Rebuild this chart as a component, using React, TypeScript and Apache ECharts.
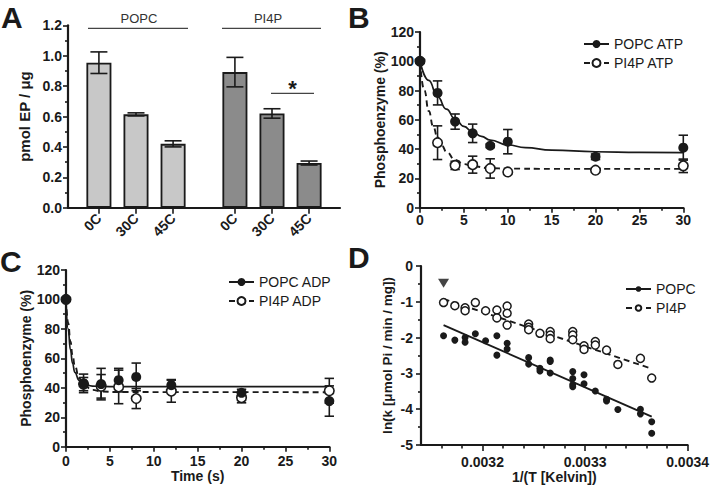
import React, { useEffect, useRef } from 'react';
import * as echarts from 'echarts';

const FONT = '"Liberation Sans", Arial, Helvetica, sans-serif';
const INK = '#1a1a1a';

// ---------- Panel A : bars ----------
const tempLabels = ['0C', '30C', '45C'];
const popcEP = [0.954, 0.614, 0.42];
const popcEPErr = [0.071, 0.01, 0.02];
const pi4pEP = [0.892, 0.62, 0.294];
const pi4pEPErr = [0.097, 0.031, 0.013];
const popcSlots = [2, 5, 8];
const pi4pSlots = [13, 16, 19];
const SLOT_COUNT = 22;

// ---------- Panel B : ATP ----------
const timeB = [0, 2, 4, 6, 8, 10, 20, 30];
const popcATP = [100, 78.4, 58.8, 50.8, 42.3, 45.1, 34.8, 41];
const popcATPErr = [0, 8.2, 5.2, 6.3, 1.2, 8.3, 1.9, 8.5];
const pi4pATP = [100, 44.4, 28.9, 29.4, 26.8, 24.4, 25.6, 28.6];
const pi4pATPErr = [0, 11.5, 2.8, 5.8, 6.6, 1, 1.3, 4.6];
const popcATPFit = [[0, 100], [1, 87], [2, 75.8], [3, 67.3], [4, 60.7], [5, 55.6], [6, 51.7], [7, 48.7], [8, 46.2], [10, 42.9], [12, 41], [15, 39.3], [20, 38.2], [25, 37.8], [30, 37.6]];
const pi4pATPFit = [[0, 100], [0.5, 80], [1, 66], [1.5, 55.5], [2, 48], [2.5, 42.3], [3, 38.3], [4, 32.7], [5, 29.8], [6, 28.3], [8, 27], [10, 26.7], [15, 26.5], [30, 26.5]];

// ---------- Panel C : ADP ----------
const timeC = [0, 2, 4, 6, 8, 12, 20, 30];
const popcADP = [100, 43, 42.5, 45.2, 47.4, 41.8, 36.6, 31];
const popcADPErr = [0, 6.3, 10.7, 8, 9.4, 3.8, 2.4, 10.3];
const pi4pADP = [100, 42.5, 41, 40.6, 32.7, 37.7, 33.3, 38];
const pi4pADPErr = [0, 4.5, 8, 11.4, 6.8, 7.5, 3.5, 8.4];
const popcADPFit = [[0, 100], [0.25, 80], [0.5, 66], [0.75, 56.5], [1, 50.5], [1.5, 45], [2, 42.6], [3, 41.2], [4, 40.9], [6, 40.8], [30, 40.8]];
const pi4pADPFit = [[0, 100], [0.25, 84], [0.5, 71.5], [0.75, 62], [1, 55], [1.5, 46.5], [2, 42], [3, 38.6], [4, 37.5], [6, 37.1], [30, 37]];

// ---------- Panel D : Arrhenius ----------
const popcArrX = [0.003162, 0.003173, 0.003183, 0.003183, 0.003193, 0.003203, 0.003214, 0.003214, 0.003224, 0.003224, 0.003245, 0.003245, 0.003256, 0.003256, 0.003266, 0.003266, 0.003266, 0.003288, 0.003288, 0.003288, 0.003288, 0.003299, 0.003299, 0.00331, 0.003321, 0.003321, 0.003332, 0.003354, 0.003354, 0.003365, 0.003365];
const popcArrY = [-1.95, -2.07, -2.0, -2.13, -1.89, -2.09, -1.95, -2.49, -2.16, -2.32, -2.56, -2.74, -2.86, -2.93, -2.63, -2.67, -2.99, -2.95, -3.14, -3.31, -3.37, -3.04, -3.29, -3.49, -3.72, -3.77, -4.01, -4.0, -4.13, -4.35, -4.67];
const pi4pArrX = [0.003162, 0.003173, 0.003183, 0.003183, 0.003193, 0.003203, 0.003214, 0.003214, 0.003224, 0.003224, 0.003224, 0.003245, 0.003245, 0.003245, 0.003256, 0.003266, 0.003266, 0.003266, 0.003288, 0.003288, 0.003288, 0.003299, 0.003299, 0.00331, 0.00331, 0.003321, 0.003332, 0.003354, 0.003365];
const pi4pArrY = [-1.02, -1.11, -1.17, -1.25, -1.02, -1.25, -1.23, -1.45, -1.12, -1.32, -1.65, -1.62, -1.71, -1.78, -1.88, -1.83, -1.93, -2.03, -1.83, -1.93, -2.06, -2.23, -2.33, -2.11, -2.21, -2.35, -2.75, -2.58, -3.13];
const popcArrFit = [[0.003162, -1.65], [0.003365, -4.21]];
const pi4pArrFit = [[0.003162, -0.92], [0.003365, -2.87]];
const arrowMark = [[0.003162, -0.48]];
const dMajorTicks = [0.0032, 0.0033, 0.0034];
const dMinorTicks = [0.00316, 0.00318, 0.00322, 0.00324, 0.00326, 0.00328, 0.00332, 0.00334, 0.00336, 0.00338];

const labelStyle = { color: INK, fontFamily: FONT, fontWeight: 'bold', fontSize: 14 };
const nameStyle = { color: INK, fontFamily: FONT, fontWeight: 'bold', fontSize: 14 };
const axisLine = { show: true, onZero: false, lineStyle: { color: INK, width: 2.2 } };
const tickLine = { color: INK, width: 1.6 };

function valueAxis(o: any) {
  return {
    type: 'value',
    axisLine,
    axisTick: { show: true, length: 5, lineStyle: tickLine },
    minorTick: { show: true, splitNumber: 2, length: 3, lineStyle: tickLine },
    splitLine: { show: false },
    minorSplitLine: { show: false },
    nameLocation: 'middle',
    nameTextStyle: nameStyle,
    ...o,
    axisLabel: { ...labelStyle, margin: 7, ...(o.axisLabel || {}) },
  };
}

const errorBarRender = (cap: number) => (params: any, api: any) => {
  const x = api.value(0);
  const lo = api.coord([x, api.value(1)]);
  const hi = api.coord([x, api.value(2)]);
  const style = { stroke: INK, lineWidth: 1.6, fill: 'none' };
  return {
    type: 'group',
    children: [
      { type: 'line', shape: { x1: lo[0], y1: lo[1], x2: hi[0], y2: hi[1] }, style },
      { type: 'line', shape: { x1: hi[0] - cap, y1: hi[1], x2: hi[0] + cap, y2: hi[1] }, style },
      { type: 'line', shape: { x1: lo[0] - cap, y1: lo[1], x2: lo[0] + cap, y2: lo[1] }, style },
    ],
  };
};

function errData(xs: number[], ys: number[], es: number[]) {
  return xs.map((x, i) => [x, ys[i] - es[i], ys[i] + es[i], es[i]]).filter((d) => d[3] > 0);
}

function buildOption() {
  const slotLabels: string[] = Array.from({ length: SLOT_COUNT }, () => '');
  popcSlots.forEach((s, i) => (slotLabels[s] = tempLabels[i]));
  pi4pSlots.forEach((s, i) => (slotLabels[s] = tempLabels[i]));
  const slotCats = slotLabels.map((_, i) => 's' + i);
  const popcBar: any[] = slotLabels.map(() => '-');
  const pi4pBar: any[] = slotLabels.map(() => '-');
  popcSlots.forEach((s, i) => (popcBar[s] = popcEP[i]));
  pi4pSlots.forEach((s, i) => (pi4pBar[s] = pi4pEP[i]));
  const aErr = [
    ...popcSlots.map((s, i) => [s, popcEP[i] - popcEPErr[i], popcEP[i] + popcEPErr[i]]),
    ...pi4pSlots.map((s, i) => [s, pi4pEP[i] - pi4pEPErr[i], pi4pEP[i] + pi4pEPErr[i]]),
  ];

  const filled = { color: INK, opacity: 1 };
  const open = { color: '#ffffff', borderColor: INK, borderWidth: 1.6, opacity: 1 };
  const solidLine = { color: INK, width: 1.7, type: 'solid' };
  const dashLine = { color: INK, width: 1.9, type: [6, 4] };
  const legendText = { color: INK, fontFamily: FONT, fontSize: 14 };

  const text = (t: string, x: number, y: number, font: string, align = 'left', fill = INK, va = 'middle') => ({
    type: 'text', x, y, silent: true,
    style: { text: t, font, fill, align, verticalAlign: va },
  });
  const hline = (x1: number, x2: number, y: number) => ({
    type: 'line', silent: true, shape: { x1, y1: y, x2, y2: y }, style: { stroke: '#444', lineWidth: 1.3 },
  });

  return {
    animation: false,
    backgroundColor: '#ffffff',
    textStyle: { fontFamily: FONT },
    grid: [
      { left: 68, top: 25.3, width: 272, height: 182.4 },
      { left: 420, top: 32, width: 263.3, height: 175.7 },
      { left: 66, top: 270, width: 263.3, height: 176.7 },
      { left: 421, top: 266, width: 269, height: 179 },
    ],
    xAxis: [
      {
        gridIndex: 0, type: 'category', data: slotCats, boundaryGap: true,
        axisLine,
        axisTick: { show: true, alignWithLabel: true, length: 6, lineStyle: tickLine, interval: (i: number) => slotLabels[i] !== '' },
        axisLabel: { ...labelStyle, rotate: 45, margin: 8, interval: (i: number) => slotLabels[i] !== '', formatter: (_v: string, i: number) => slotLabels[i] },
        splitLine: { show: false },
      },
      valueAxis({ gridIndex: 1, min: 0, max: 30, interval: 5, axisLabel: { margin: 5 } }),
      valueAxis({ gridIndex: 2, min: 0, max: 30, interval: 5, name: 'Time (s)', nameGap: 12, axisLabel: { margin: 7 } }),
      valueAxis({
        gridIndex: 3, min: 0.00314, max: 0.0034, position: 'bottom',
        minorTick: { show: false },
        axisTick: { show: true, length: 6, lineStyle: tickLine, customValues: dMajorTicks },
        axisLabel: { margin: 10, customValues: dMajorTicks, formatter: (v: number) => v.toFixed(4) },
        name: '1/(T [Kelvin])', nameGap: 25,
      }),
      {
        gridIndex: 3, type: 'value', min: 0.00314, max: 0.0034, position: 'top', offset: -179,
        axisLine: { show: false },
        axisTick: { show: true, inside: true, length: 3.5, lineStyle: tickLine, customValues: dMinorTicks },
        axisLabel: { show: false },
        splitLine: { show: false },
      },
    ],
    yAxis: [
      valueAxis({
        gridIndex: 0, min: 0, max: 1.2, interval: 0.2, name: 'pmol EP / μg', nameGap: 36,
        nameTextStyle: { ...nameStyle, fontSize: 15 },
        axisLabel: { margin: 6, formatter: (v: number) => v.toFixed(1) },
      }),
      valueAxis({ gridIndex: 1, min: 0, max: 120, interval: 20, name: 'Phosphoenzyme (%)', nameGap: 32, axisLabel: { margin: 6 } }),
      valueAxis({ gridIndex: 2, min: 0, max: 120, interval: 20, name: 'Phosphoenzyme (%)', nameGap: 32, axisLabel: { margin: 6 } }),
      valueAxis({
        gridIndex: 3, min: -5, max: 0, interval: 1, name: 'ln(k [μmol Pi / min / mg])', nameGap: 27,
        nameTextStyle: { ...nameStyle, fontSize: 13.5 }, axisLabel: { margin: 8 },
      }),
    ],
    legend: [
      {
        data: ['POPC ATP', 'PI4P ATP'], orient: 'vertical', left: 578, top: 32, itemWidth: 25, itemHeight: 10,
        itemGap: 5, textStyle: legendText, selectedMode: false,
      },
      {
        data: ['POPC ADP', 'PI4P ADP'], orient: 'vertical', left: 223, top: 270, itemWidth: 25, itemHeight: 10,
        itemGap: 5, textStyle: legendText, selectedMode: false,
      },
      {
        data: ['POPC', 'PI4P'], orient: 'vertical', left: 620, top: 277, itemWidth: 25, itemHeight: 7,
        itemGap: 5, textStyle: legendText, selectedMode: false,
      },
    ],
    series: [
      // Panel A
      {
        name: 'A POPC', type: 'bar', xAxisIndex: 0, yAxisIndex: 0, data: popcBar, barWidth: 25, barGap: '-100%',
        itemStyle: { color: '#c8c8c8', borderColor: INK, borderWidth: 1.8 },
      },
      {
        name: 'A PI4P', type: 'bar', xAxisIndex: 0, yAxisIndex: 0, data: pi4pBar, barWidth: 25, barGap: '-100%',
        itemStyle: { color: '#8b8b8b', borderColor: INK, borderWidth: 1.8 },
      },
      {
        name: 'A err', type: 'custom', xAxisIndex: 0, yAxisIndex: 0, data: aErr, renderItem: errorBarRender(8.5),
        encode: { x: 0, y: [1, 2] }, z: 5,
      },
      // Panel B
      { name: 'B err1', type: 'custom', xAxisIndex: 1, yAxisIndex: 1, data: errData(timeB, popcATP, popcATPErr), renderItem: errorBarRender(4.7), encode: { x: 0, y: [1, 2] }, z: 2 },
      { name: 'B err2', type: 'custom', xAxisIndex: 1, yAxisIndex: 1, data: errData(timeB, pi4pATP, pi4pATPErr), renderItem: errorBarRender(4.7), encode: { x: 0, y: [1, 2] }, z: 2 },
      { name: 'POPC ATP', type: 'line', xAxisIndex: 1, yAxisIndex: 1, data: popcATPFit, smooth: true, smoothMonotone: 'x', showSymbol: false, symbol: 'circle', lineStyle: solidLine, itemStyle: filled, z: 3 },
      { name: 'PI4P ATP', type: 'line', xAxisIndex: 1, yAxisIndex: 1, data: pi4pATPFit, smooth: true, smoothMonotone: 'x', showSymbol: false, symbol: 'circle', lineStyle: dashLine, itemStyle: open, z: 3 },
      { name: 'B pi4p pts', type: 'scatter', xAxisIndex: 1, yAxisIndex: 1, data: timeB.map((t, i) => [t, pi4pATP[i]]), symbolSize: 9.5, itemStyle: open, z: 4 },
      { name: 'B popc pts', type: 'scatter', xAxisIndex: 1, yAxisIndex: 1, data: timeB.map((t, i) => [t, popcATP[i]]), symbolSize: 10, itemStyle: filled, z: 4 },
      // Panel C
      { name: 'C err1', type: 'custom', xAxisIndex: 2, yAxisIndex: 2, data: errData(timeC, popcADP, popcADPErr), renderItem: errorBarRender(4.7), encode: { x: 0, y: [1, 2] }, z: 2 },
      { name: 'C err2', type: 'custom', xAxisIndex: 2, yAxisIndex: 2, data: errData(timeC, pi4pADP, pi4pADPErr), renderItem: errorBarRender(4.7), encode: { x: 0, y: [1, 2] }, z: 2 },
      { name: 'POPC ADP', type: 'line', xAxisIndex: 2, yAxisIndex: 2, data: popcADPFit, smooth: true, smoothMonotone: 'x', showSymbol: false, symbol: 'circle', lineStyle: solidLine, itemStyle: filled, z: 3 },
      { name: 'PI4P ADP', type: 'line', xAxisIndex: 2, yAxisIndex: 2, data: pi4pADPFit, smooth: true, smoothMonotone: 'x', showSymbol: false, symbol: 'circle', lineStyle: dashLine, itemStyle: open, z: 3 },
      { name: 'C pi4p pts', type: 'scatter', xAxisIndex: 2, yAxisIndex: 2, data: timeC.map((t, i) => [t, pi4pADP[i]]), symbolSize: 9.5, itemStyle: open, z: 4 },
      { name: 'C popc pts', type: 'scatter', xAxisIndex: 2, yAxisIndex: 2, data: timeC.map((t, i) => [t, popcADP[i]]), symbolSize: 10, itemStyle: filled, z: 4 },
      // Panel D
      { name: 'POPC', type: 'line', xAxisIndex: 3, yAxisIndex: 3, data: popcArrFit, showSymbol: false, symbol: 'circle', lineStyle: { ...solidLine, width: 1.9 }, itemStyle: filled, z: 3 },
      { name: 'PI4P', type: 'line', xAxisIndex: 3, yAxisIndex: 3, data: pi4pArrFit, showSymbol: false, symbol: 'circle', lineStyle: dashLine, itemStyle: open, z: 3 },
      { name: 'D popc pts', type: 'scatter', xAxisIndex: 3, yAxisIndex: 3, data: popcArrX.map((x, i) => [x, popcArrY[i]]), symbolSize: 7, itemStyle: filled, z: 4 },
      { name: 'D pi4p pts', type: 'scatter', xAxisIndex: 3, yAxisIndex: 3, data: pi4pArrX.map((x, i) => [x, pi4pArrY[i]]), symbolSize: 8, itemStyle: { ...open, borderWidth: 1.5 }, z: 4 },
      { name: 'D mark', type: 'scatter', xAxisIndex: 3, yAxisIndex: 3, data: arrowMark, symbol: 'triangle', symbolRotate: 180, symbolSize: [11, 9], itemStyle: { color: '#444', opacity: 1 }, z: 4 },
    ],
    graphic: [
      text('A', 1, 2, `bold 30px ${FONT}`, 'left', INK, 'top'),
      text('B', 348, 2, `bold 30px ${FONT}`, 'left', INK, 'top'),
      text('C', 0, 246, `bold 30px ${FONT}`, 'left', INK, 'top'),
      text('D', 348, 242, `bold 30px ${FONT}`, 'left', INK, 'top'),
      text('POPC', 139, 18.5, `13px ${FONT}`, 'center', '#333'),
      text('PI4P', 268, 18.5, `13px ${FONT}`, 'center', '#333'),
      hline(88, 188, 28.3),
      hline(222, 321, 28.3),
      text('*', 292.5, 88, `bold 22px ${FONT}`, 'center'),
      hline(271, 314, 93.3),
    ],
  };
}

export default function App() {
  const ref = useRef<HTMLDivElement>(null);
  useEffect(() => {
    if (!ref.current) return;
    const chart = echarts.init(ref.current, undefined, { renderer: 'svg' });
    chart.setOption(buildOption() as any);
    return () => chart.dispose();
  }, []);
  return <div ref={ref} style={{ position: 'fixed', left: 0, top: 0, width: 712, height: 490, background: '#fff' }} />;
}
